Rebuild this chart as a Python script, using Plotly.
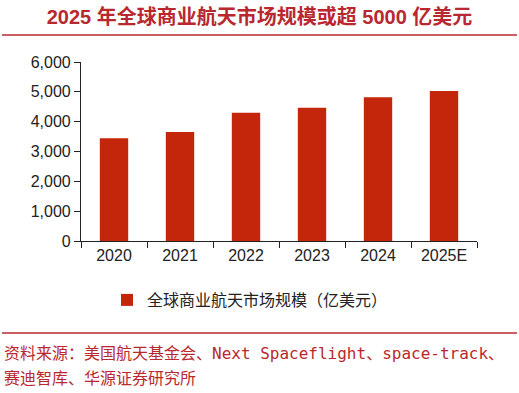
import plotly.graph_objects as go

categories = ["2020", "2021", "2022", "2023", "2024", "2025E"]
values = [3440, 3650, 4300, 4470, 4820, 5030]
series_name = "全球商业航天市场规模（亿美元）"
title_text = "2025 年全球商业航天市场规模或超 5000 亿美元"
source_line1 = "资料来源：美国航天基金会、Next Spaceflight、space-track、"
source_line2 = "赛迪智库、华源证券研究所"

W, H = 519, 393
L, R, T, B = 81, 42, 62, 152
pw, ph = W - L - R, H - T - B

def px(x):
    return (x - L) / pw

def py(y):
    return (H - B - y) / ph

bar_color = "#C4260C"
red = "#B8282E"

fig = go.Figure()
fig.add_trace(go.Bar(x=categories, y=values, name=series_name,
                     marker=dict(color=bar_color, line=dict(width=0)),
                     showlegend=True))

fig.update_layout(
    width=W, height=H,
    margin=dict(l=L, r=R, t=T, b=B),
    paper_bgcolor="white", plot_bgcolor="white",
    bargap=0.57,
    font=dict(family="Liberation Sans, Arial, sans-serif", size=16, color="#222"),
    title=dict(text="<b>" + title_text + "</b>", x=0.5, xanchor="center",
               y=1 - 17 / H, yanchor="middle",
               font=dict(family="Liberation Sans, Noto Sans CJK SC, sans-serif", size=20, color=red)),
    showlegend=True,
    legend=dict(orientation="h", x=px(250), xanchor="center", y=py(300), yanchor="middle",
                font=dict(family="Noto Sans CJK SC, sans-serif", size=16, color="#222"),
                itemwidth=30),
    xaxis=dict(showline=True, linecolor="#222", linewidth=1.2, ticks="outside",
               tickson="boundaries", ticklen=6, tickcolor="#222", showgrid=False,
               tickfont=dict(size=16, color="#222")),
    yaxis=dict(range=[0, 6000], dtick=1000, tickformat=",d", showline=True,
               linecolor="#222", linewidth=1.2, ticks="outside", ticklen=6,
               tickcolor="#222", showgrid=False, zeroline=False,
               tickfont=dict(size=16, color="#222")),
)

fig.add_shape(type="line", xref="paper", yref="paper", x0=px(2), x1=px(517),
              y0=py(35), y1=py(35), line=dict(color=red, width=1.5))
fig.add_shape(type="line", xref="paper", yref="paper", x0=px(2), x1=px(517),
              y0=py(333), y1=py(333), line=dict(color=red, width=1.5))

src_font = dict(family="DejaVu Sans Mono, Noto Sans CJK SC, monospace", size=16, color=red)
fig.add_annotation(text=source_line1, xref="paper", yref="paper", x=px(2), y=py(353),
                   xanchor="left", yanchor="middle", showarrow=False, font=src_font)
fig.add_annotation(text=source_line2, xref="paper", yref="paper", x=px(2), y=py(378),
                   xanchor="left", yanchor="middle", showarrow=False, font=src_font)

fig.write_html("out.html", config={"displayModeBar": False},
               post_script="document.body.style.margin='0';document.body.style.padding='0';")
